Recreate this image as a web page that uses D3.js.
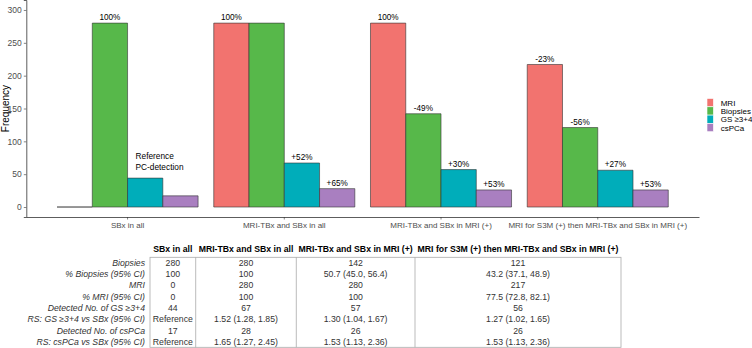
<!DOCTYPE html>
<html>
<head>
<meta charset="utf-8">
<script src="https://cdn.jsdelivr.net/npm/d3@7"></script>
<style>
  body { margin: 0; background: #fff; }
  svg { font-family: "Liberation Sans", Arial, sans-serif; }
</style>
</head>
<body>
<svg width="752" height="348"></svg>
<script>
const groups = ["SBx in all", "MRI-TBx and SBx in all", "MRI-TBx and SBx in MRI (+)", "MRI for S3M (+) then MRI-TBx and SBx in MRI (+)"];
const series = ["MRI", "Biopsies", "GS \u22653+4", "csPCa"];
const colors = ["#F2736F", "#57B84A", "#00ADBA", "#A97FC0"];

const mriValues = [0, 280, 280, 217];
const biopsyValues = [280, 280, 142, 121];
const gsValues = [44, 67, 57, 56];
const cspcaValues = [17, 28, 26, 26];

const mriLabels = ["", "100%", "100%", "-23%"];
const biopsyLabels = ["100%", "", "-49%", "-56%"];
const gsLabels = ["", "+52%", "+30%", "+27%"];
const cspcaLabels = ["", "+65%", "+53%", "+53%"];

const yTicks = [0, 50, 100, 150, 200, 250, 300];

const rowLabels = ["Biopsies", "% Biopsies (95% CI)", "MRI", "% MRI (95% CI)",
  "Detected No. of GS \u22653+4", "RS: GS \u22653+4 vs SBx (95% CI)",
  "Detected No. of csPCa", "RS: csPCa vs SBx (95% CI)"];
const colSBx = ["280", "100", "0", "0", "44", "Reference", "17", "Reference"];
const colAll = ["280", "100", "280", "100", "67", "1.52 (1.28, 1.85)", "28", "1.65 (1.27, 2.45)"];
const colMRIpos = ["142", "50.7 (45.0, 56.4)", "280", "100", "57", "1.30 (1.04, 1.67)", "26", "1.53 (1.13, 2.36)"];
const colS3M = ["121", "43.2 (37.1, 48.9)", "217", "77.5 (72.8, 82.1)", "56", "1.27 (1.02, 1.65)", "26", "1.53 (1.13, 2.36)"];

const values = [mriValues, biopsyValues, gsValues, cspcaValues];
const labels = [mriLabels, biopsyLabels, gsLabels, cspcaLabels];

const data = [];
series.forEach((s, i) => {
  groups.forEach((g, j) => {
    data.push({group: g, series: s, value: values[i][j], label: labels[i][j], color: colors[i]});
  });
});

const svg = d3.select("svg");
const plot = {left: 26.3, right: 699, top: 0, bottom: 217};

const x0 = d3.scaleBand()
  .domain(groups)
  .range([plot.left, plot.right])
  .paddingInner(0.1)
  .paddingOuter(0.196);

const x1 = d3.scaleBand()
  .domain(series)
  .range([0, x0.bandwidth()]);

const y = d3.scaleLinear()
  .domain([-15.2, 315.2])
  .range([plot.bottom, plot.top]);

// y axis
const yAxis = svg.append("g")
  .attr("transform", "translate(" + plot.left + ",0)")
  .call(d3.axisLeft(y).tickValues(yTicks).tickSize(2.5).tickPadding(2));
yAxis.select(".domain").attr("stroke", "#333").attr("stroke-width", 0.8);
yAxis.selectAll(".tick line").attr("stroke", "#333").attr("stroke-width", 0.6);
yAxis.selectAll(".tick text").attr("fill", "#4d4d4d").attr("font-size", 8.5)
  .attr("font-family", "Liberation Sans, Arial, sans-serif");

// x axis
const xAxis = svg.append("g")
  .attr("transform", "translate(0," + plot.bottom + ")")
  .call(d3.axisBottom(x0).tickSize(2.5).tickPadding(2.5).tickSizeOuter(0));
xAxis.select(".domain").attr("stroke", "#333").attr("stroke-width", 0.8);
xAxis.selectAll(".tick line").attr("stroke", "#333").attr("stroke-width", 0.6);
xAxis.selectAll(".tick text").attr("fill", "#4d4d4d").attr("font-size", 8)
  .attr("font-family", "Liberation Sans, Arial, sans-serif");

// y title
svg.append("text")
  .attr("transform", "translate(8.8," + y(150) + ") rotate(-90)")
  .attr("text-anchor", "middle")
  .attr("font-size", 10)
  .attr("fill", "#000")
  .text("Frequency");

// bars (paths so the zero bar still shows its outline)
svg.append("g").selectAll("path")
  .data(data)
  .join("path")
  .attr("d", d => {
    const bx = x0(d.group) + x1(d.series);
    const w = x1.bandwidth();
    const top = y(d.value), base = y(0);
    return "M" + bx + "," + base + "V" + top + "H" + (bx + w) + "V" + base + "Z";
  })
  .attr("fill", d => d.color)
  .attr("stroke", "#333")
  .attr("stroke-width", 0.6);

// labels on bars
svg.append("g").selectAll("text")
  .data(data.filter(d => d.label))
  .join("text")
  .attr("x", d => x0(d.group) + x1(d.series) + x1.bandwidth() / 2)
  .attr("y", d => y(d.value) - 2.8)
  .attr("text-anchor", "middle")
  .attr("font-size", 8.2)
  .attr("fill", "#000")
  .text(d => d.label);

// reference annotation
const refX = x0(groups[0]) + x1(series[2]) + 8;
svg.append("text").attr("x", refX).attr("y", y(73.5))
  .attr("font-size", 8.3).attr("fill", "#000").text("Reference");
svg.append("text").attr("x", refX).attr("y", y(56))
  .attr("font-size", 8.3).attr("fill", "#000").text("PC-detection");

// legend
const legend = svg.append("g").attr("transform", "translate(707,98.5)");
series.forEach((s, i) => {
  legend.append("rect")
    .attr("x", 0).attr("y", i * 8.3)
    .attr("width", 6.4).attr("height", 8.3)
    .attr("fill", colors[i])
    .attr("stroke", "#fff").attr("stroke-width", 0.6);
  legend.append("text")
    .attr("x", 13.7).attr("y", i * 8.3 + 7.3)
    .attr("font-size", 8).attr("fill", "#000")
    .text(s);
});

// table
const colEdges = [150, 195.7, 296.3, 415, 621];
const columns = [colSBx, colAll, colMRIpos, colS3M];
const tableTop = 257.3, tableBottom = 347.3;
const rowY = d3.scalePoint().domain(d3.range(rowLabels.length)).range([262.7, 342]);
const table = svg.append("g").attr("font-size", 8.7);

table.append("rect")
  .attr("x", colEdges[0]).attr("y", tableTop)
  .attr("width", colEdges[4] - colEdges[0]).attr("height", tableBottom - tableTop)
  .attr("fill", "none").attr("stroke", "#aaa").attr("stroke-width", 0.8);
colEdges.slice(1, 4).forEach(cx => {
  table.append("line")
    .attr("x1", cx).attr("x2", cx).attr("y1", tableTop).attr("y2", tableBottom)
    .attr("stroke", "#aaa").attr("stroke-width", 0.8);
});

groups.forEach((g, j) => {
  const cx = (colEdges[j] + colEdges[j + 1]) / 2;
  table.append("text")
    .attr("x", cx).attr("y", 252.2)
    .attr("text-anchor", "middle")
    .attr("font-weight", "bold").attr("fill", "#000")
    .text(g);
  columns[j].forEach((v, i) => {
    table.append("text")
      .attr("x", cx).attr("y", rowY(i) + 3.1)
      .attr("text-anchor", "middle")
      .attr("fill", "#333")
      .text(v);
  });
});

rowLabels.forEach((r, i) => {
  table.append("text")
    .attr("x", 145)
    .attr("y", rowY(i) + 3.1)
    .attr("text-anchor", "end")
    .attr("font-style", "italic")
    .attr("fill", "#333")
    .text(r);
});
</script>
</body>
</html>
